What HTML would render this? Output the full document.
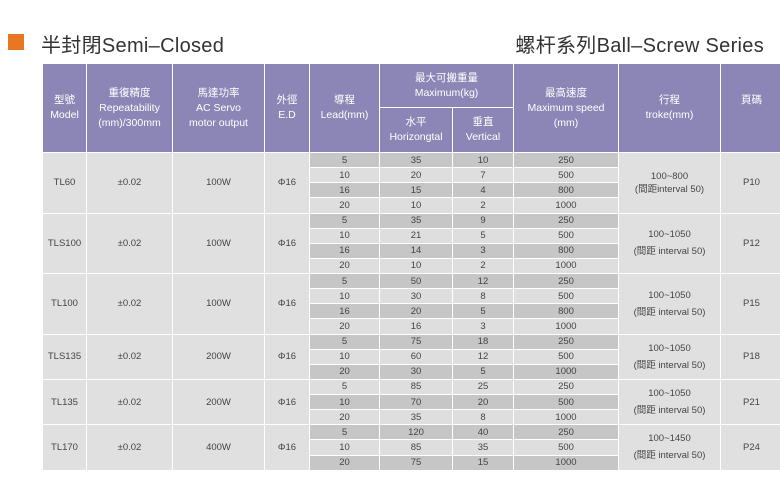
<!DOCTYPE html>
<html><head><meta charset="utf-8"><style>
body{margin:0;width:780px;height:499px;background:#fff;position:relative;overflow:hidden;font-family:"Liberation Sans","Noto Sans CJK TC",sans-serif;}
.sq{position:absolute;left:8px;top:34px;width:16px;height:16px;background:#e87722;}
.t1{position:absolute;left:41px;top:29px;font-size:20px;color:#333;letter-spacing:0.3px;white-space:nowrap}
.t2{position:absolute;right:16px;top:29px;font-size:20px;color:#333;letter-spacing:0.3px;white-space:nowrap}
table{position:absolute;left:42px;top:63px;border-collapse:collapse;table-layout:fixed;width:740px}
td{border:1px solid #fff;text-align:center;padding:0;font-size:9.5px;color:#444;line-height:13px;overflow:hidden;white-space:nowrap}
thead td{background:#8b86b6;color:#fff;font-size:10.5px;line-height:15px}
tbody tr{height:15.14px}
.g{background:#e0e0e0}
tr.d td.v{background:#c6c6c6}
tr.l td.v{background:#dedede}
</style></head><body>
<div class="sq"></div>
<div class="t1">半封閉Semi–Closed</div>
<div class="t2">螺杆系列Ball–Screw Series</div>
<table>
<colgroup><col style="width:44px"><col style="width:86px"><col style="width:92px"><col style="width:45px"><col style="width:70px"><col style="width:73px"><col style="width:61px"><col style="width:105px"><col style="width:102px"><col style="width:62px"></colgroup>
<thead>
<tr style="height:44px"><td rowspan="2">型號<br>Model</td><td rowspan="2">重復精度<br>Repeatability<br>(mm)/300mm</td><td rowspan="2">馬達功率<br>AC Servo<br>motor output</td><td rowspan="2">外徑<br>E.D</td><td rowspan="2">導程<br>Lead(mm)</td><td colspan="2">最大可搬重量<br>Maximum(kg)</td><td rowspan="2">最高速度<br>Maximum speed<br>(mm)</td><td rowspan="2">行程<br>troke(mm)</td><td rowspan="2">頁碼<br>&nbsp;</td></tr>
<tr style="height:45px"><td>水平<br>Horizongtal</td><td>垂直<br>Vertical</td></tr>
</thead>
<tbody>
<tr class="d"><td class="g" rowspan="4">TL60</td><td class="g" rowspan="4">±0.02</td><td class="g" rowspan="4">100W</td><td class="g" rowspan="4">Φ16</td><td class="v">5</td><td class="v">35</td><td class="v">10</td><td class="v">250</td><td class="g" rowspan="4">100~800<br>(間距interval 50)</td><td class="g" rowspan="4">P10</td></tr>
<tr class="l"><td class="v">10</td><td class="v">20</td><td class="v">7</td><td class="v">500</td></tr>
<tr class="d"><td class="v">16</td><td class="v">15</td><td class="v">4</td><td class="v">800</td></tr>
<tr class="l"><td class="v">20</td><td class="v">10</td><td class="v">2</td><td class="v">1000</td></tr>
<tr class="d"><td class="g" rowspan="4">TLS100</td><td class="g" rowspan="4">±0.02</td><td class="g" rowspan="4">100W</td><td class="g" rowspan="4">Φ16</td><td class="v">5</td><td class="v">35</td><td class="v">9</td><td class="v">250</td><td class="g" rowspan="4" style="line-height:17px">100~1050<br>(間距 interval 50)</td><td class="g" rowspan="4">P12</td></tr>
<tr class="l"><td class="v">10</td><td class="v">21</td><td class="v">5</td><td class="v">500</td></tr>
<tr class="d"><td class="v">16</td><td class="v">14</td><td class="v">3</td><td class="v">800</td></tr>
<tr class="l"><td class="v">20</td><td class="v">10</td><td class="v">2</td><td class="v">1000</td></tr>
<tr class="d"><td class="g" rowspan="4">TL100</td><td class="g" rowspan="4">±0.02</td><td class="g" rowspan="4">100W</td><td class="g" rowspan="4">Φ16</td><td class="v">5</td><td class="v">50</td><td class="v">12</td><td class="v">250</td><td class="g" rowspan="4" style="line-height:17px">100~1050<br>(間距 interval 50)</td><td class="g" rowspan="4">P15</td></tr>
<tr class="l"><td class="v">10</td><td class="v">30</td><td class="v">8</td><td class="v">500</td></tr>
<tr class="d"><td class="v">16</td><td class="v">20</td><td class="v">5</td><td class="v">800</td></tr>
<tr class="l"><td class="v">20</td><td class="v">16</td><td class="v">3</td><td class="v">1000</td></tr>
<tr class="d"><td class="g" rowspan="3">TLS135</td><td class="g" rowspan="3">±0.02</td><td class="g" rowspan="3">200W</td><td class="g" rowspan="3">Φ16</td><td class="v">5</td><td class="v">75</td><td class="v">18</td><td class="v">250</td><td class="g" rowspan="3" style="line-height:17px">100~1050<br>(間距 interval 50)</td><td class="g" rowspan="3">P18</td></tr>
<tr class="l"><td class="v">10</td><td class="v">60</td><td class="v">12</td><td class="v">500</td></tr>
<tr class="d"><td class="v">20</td><td class="v">30</td><td class="v">5</td><td class="v">1000</td></tr>
<tr class="l"><td class="g" rowspan="3">TL135</td><td class="g" rowspan="3">±0.02</td><td class="g" rowspan="3">200W</td><td class="g" rowspan="3">Φ16</td><td class="v">5</td><td class="v">85</td><td class="v">25</td><td class="v">250</td><td class="g" rowspan="3" style="line-height:17px">100~1050<br>(間距 interval 50)</td><td class="g" rowspan="3">P21</td></tr>
<tr class="d"><td class="v">10</td><td class="v">70</td><td class="v">20</td><td class="v">500</td></tr>
<tr class="l"><td class="v">20</td><td class="v">35</td><td class="v">8</td><td class="v">1000</td></tr>
<tr class="d"><td class="g" rowspan="3">TL170</td><td class="g" rowspan="3">±0.02</td><td class="g" rowspan="3">400W</td><td class="g" rowspan="3">Φ16</td><td class="v">5</td><td class="v">120</td><td class="v">40</td><td class="v">250</td><td class="g" rowspan="3" style="line-height:17px">100~1450<br>(間距 interval 50)</td><td class="g" rowspan="3">P24</td></tr>
<tr class="l"><td class="v">10</td><td class="v">85</td><td class="v">35</td><td class="v">500</td></tr>
<tr class="d"><td class="v">20</td><td class="v">75</td><td class="v">15</td><td class="v">1000</td></tr>
</tbody></table>
</body></html>
